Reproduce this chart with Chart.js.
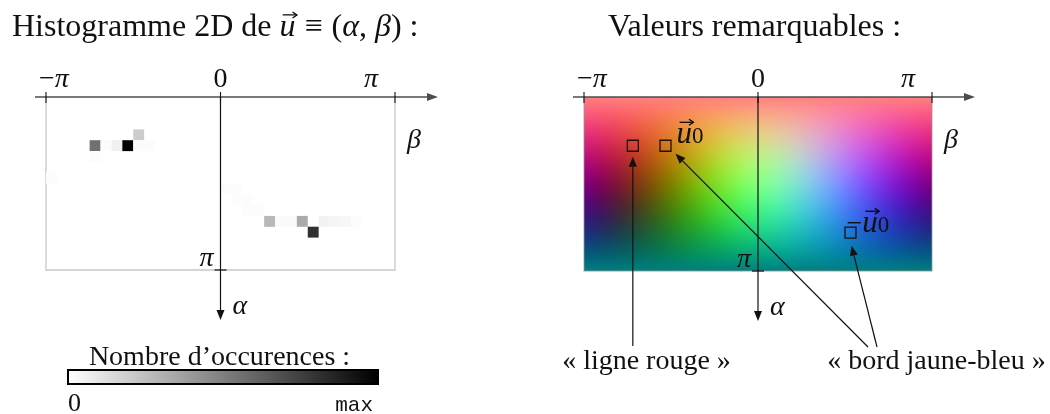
<!DOCTYPE html>
<html>
<head>
<meta charset="utf-8">
<script src="https://cdn.jsdelivr.net/npm/chart.js@4.4.1/dist/chart.umd.min.js"></script>
<style>
  body { margin: 0; background: #fff; }
  #wrap { position: relative; width: 1050px; height: 414px; }
  canvas { position: absolute; top: 0; }
</style>
</head>
<body>
<div id="wrap">
  <canvas id="hist" width="525" height="414" style="left:0"></canvas>
  <canvas id="remarq" width="525" height="414" style="left:525px"></canvas>
</div>
<script>
'use strict';
// ranges of the two angles
const betaMin = -Math.PI
const betaMax = Math.PI
const alphaMin = 0
const alphaMax = Math.PI
const nBeta = 32
const nAlpha = 16

// tick values and labels
const betaTicks = [-Math.PI, 0, Math.PI]
const betaTickLabels = ['−π', '0', 'π']
const alphaTicks = [Math.PI]
const alphaTickLabels = ['π']

// histogram cells : column = beta bin, row = alpha bin, count out of maxCount
const histCol = [8, 4, 5, 6, 7, 8, 9, 4, 0, 16, 17, 17, 18, 18, 19, 20, 21, 22, 23, 25, 26, 27, 28, 24]
const histRow = [3, 4, 4, 4, 4, 4, 4, 5, 7, 8, 8, 9, 9, 10, 10, 11, 11, 11, 11, 11, 11, 11, 11, 12]
const histCount = [20, 56, 1, 6, 100, 1, 1, 1, 1, 1, 1, 1, 1, 1, 1, 28, 2, 2, 33, 5, 4, 3, 1, 81]
const maxCount = 100

// remarkable values (alpha, beta)
const markBeta = [-2.26, -1.67, 1.67]
const markAlpha = [0.88, 0.88, 2.45]

const SERIF = "'Liberation Serif', 'DejaVu Serif', serif"
const MONO = "'Liberation Mono', 'DejaVu Sans Mono', monospace"

const cellW = (betaMax - betaMin) / nBeta
const cellH = (alphaMax - alphaMin) / nAlpha

let histPoints = []
for (let i = 0; i < histCol.length; i++) {
  histPoints.push({
    x: betaMin + (histCol[i] + 0.5) * cellW,
    y: alphaMin + (histRow[i] + 0.5) * cellH,
    n: histCount[i]
  })
}
let markPoints = []
for (let i = 0; i < markBeta.length; i++) {
  markPoints.push({ x: markBeta[i], y: markAlpha[i] })
}

// ---------- small drawing helpers
function line(ctx, x0, y0, x1, y1) {
  ctx.beginPath(); ctx.moveTo(x0, y0); ctx.lineTo(x1, y1); ctx.stroke()
}
function arrow(ctx, x0, y0, x1, y1, len, half) {
  const a = Math.atan2(y1 - y0, x1 - x0)
  const bx = x1 - len * Math.cos(a), by = y1 - len * Math.sin(a)
  line(ctx, x0, y0, bx, by)
  ctx.beginPath()
  ctx.moveTo(x1, y1)
  ctx.lineTo(bx + half * Math.sin(a), by - half * Math.cos(a))
  ctx.lineTo(bx - half * Math.sin(a), by + half * Math.cos(a))
  ctx.closePath(); ctx.fill()
}
function fontOf(p) {
  if (p.mono) return p.size + 'px ' + MONO
  return (p.it ? 'italic ' : '') + p.size + 'px ' + SERIF
}
// draws a row of text pieces (roman / italic / subscript / vector)
function drawMath(ctx, parts, x, y, align) {
  let total = 0
  for (const p of parts) { ctx.font = fontOf(p); total += ctx.measureText(p.t).width + (p.gap || 0) }
  let cx = x
  if (align === 'center') cx = x - total / 2
  if (align === 'right') cx = x - total
  ctx.textAlign = 'left'
  ctx.textBaseline = 'alphabetic'
  for (const p of parts) {
    ctx.font = fontOf(p)
    const w = ctx.measureText(p.t).width
    ctx.fillText(p.t, cx, y + (p.dy || 0))
    if (p.vec) {
      const ay = y - p.size * 0.66
      ctx.save()
      ctx.lineWidth = 1.2
      line(ctx, cx + w * 0.2, ay, cx + w + 1, ay)
      ctx.beginPath()
      ctx.moveTo(cx + w - 3, ay - 3); ctx.lineTo(cx + w + 1.5, ay); ctx.lineTo(cx + w - 3, ay + 3)
      ctx.stroke()
      ctx.restore()
    }
    cx += w + (p.gap || 0)
  }
}
function R(t, size) { return { t: t, size: size || 28 } }
function I(t, size) { return { t: t, size: size || 28, it: true } }

// axes : beta along the top edge, alpha downwards through beta = 0
function drawAxes(chart) {
  const ctx = chart.ctx
  const xs = chart.scales.x, ys = chart.scales.y
  const { left, right, top, bottom } = chart.chartArea
  const x0 = xs.getPixelForValue(0)
  ctx.save()
  ctx.strokeStyle = '#4d4d4d'; ctx.fillStyle = '#4d4d4d'; ctx.lineWidth = 1.3
  arrow(ctx, left - 11, top, right + 43, top, 11, 4)
  ctx.strokeStyle = '#111'; ctx.lineWidth = 1.1
  betaTicks.forEach(v => { const px = xs.getPixelForValue(v); line(ctx, px, top - 5, px, top + 6) })
  ctx.strokeStyle = '#111'; ctx.fillStyle = '#111'; ctx.lineWidth = 1.2
  arrow(ctx, x0, top, x0, bottom + 50, 10, 4)
  alphaTicks.forEach(v => { const py = ys.getPixelForValue(v); line(ctx, x0 - 6, py, x0 + 6, py) })

  ctx.fillStyle = '#111'
  betaTicks.forEach((v, i) => {
    const px = xs.getPixelForValue(v)
    const lab = betaTickLabels[i]
    let parts = lab === '0' ? [R('0')] : lab === 'π' ? [I('π')] : [R('−'), I('π')]
    if (i === 0) drawMath(ctx, parts, px - 7, top - 10, 'left')
    else if (i === betaTicks.length - 1) drawMath(ctx, parts, px - 17, top - 10, 'right')
    else drawMath(ctx, parts, px, top - 10, 'center')
  })
  drawMath(ctx, [I('β')], right + 12, top + 51, 'left')
  alphaTicks.forEach((v, i) => {
    const py = ys.getPixelForValue(v)
    drawMath(ctx, [I(alphaTickLabels[i])], x0 - 7, py - 4, 'right')
  })
  drawMath(ctx, [I('α')], x0 + 12, bottom + 44, 'left')
  ctx.restore()
}

function frame(chart, color) {
  const ctx = chart.ctx
  const { left, right, top, bottom } = chart.chartArea
  ctx.save()
  ctx.strokeStyle = color; ctx.lineWidth = 1.3
  ctx.beginPath()
  ctx.moveTo(left, top); ctx.lineTo(left, bottom); ctx.lineTo(right, bottom); ctx.lineTo(right, top)
  ctx.stroke()
  ctx.restore()
}

const histPlugin = {
  id: 'histPlugin',
  beforeDatasetsDraw(chart) { frame(chart, '#c8c8c8') },
  afterDraw(chart) {
    const ctx = chart.ctx
    drawAxes(chart)
    ctx.save()
    ctx.fillStyle = '#111'
    drawMath(ctx, [R('Histogramme 2D de ', 32), Object.assign(I('u', 32), { vec: true, gap: 9 }),
      Object.assign(R('≡', 32), { gap: 9 }), R('(', 32), I('α', 32), R(', ', 32), I('β', 32), R(') :', 32)], 12, 36, 'left')
    // colour bar
    drawMath(ctx, [R('Nombre d’occurences :')], 219.5, 365, 'center')
    const g = ctx.createLinearGradient(68, 0, 378, 0)
    g.addColorStop(0, '#ffffff'); g.addColorStop(1, '#000000')
    ctx.fillStyle = g
    ctx.fillRect(68, 370, 310, 14)
    ctx.strokeStyle = '#000'; ctx.lineWidth = 2
    ctx.strokeRect(68, 370, 310, 14)
    ctx.fillStyle = '#111'
    drawMath(ctx, [R('0', 26)], 68, 411, 'left')
    drawMath(ctx, [{ t: 'max', size: 21, mono: true }], 373, 411, 'right')
    ctx.restore()
  }
}

function cellSize(c) {
  const xs = c.chart.scales.x
  return Math.abs(xs.getPixelForValue(cellW) - xs.getPixelForValue(0)) / Math.SQRT2
}

new Chart(document.getElementById('hist'), {
  type: 'scatter',
  data: {
    datasets: [{
      data: histPoints,
      pointStyle: 'rect',
      pointRadius: c => cellSize(c),
      borderWidth: 0,
      backgroundColor: c => {
        const v = Math.round(255 * (1 - c.raw.n / maxCount))
        return `rgb(${v},${v},${v})`
      }
    }]
  },
  options: {
    responsive: false,
    animation: false,
    events: [],
    layout: { padding: { left: 46, right: 130, top: 97, bottom: 144 } },
    scales: {
      x: { type: 'linear', min: betaMin, max: betaMax, display: false },
      y: { type: 'linear', min: alphaMin, max: alphaMax, reverse: true, display: false }
    },
    plugins: { legend: { display: false }, tooltip: { enabled: false } }
  },
  plugins: [histPlugin]
})

// colour of a direction u = (sin a cos b, sin a sin b, cos a)
function dirColor(a, b) {
  const ux = Math.sin(a) * Math.cos(b), uy = Math.sin(a) * Math.sin(b), uz = Math.cos(a)
  return [255 * (0.5 + 0.5 * uz), 255 * (0.5 + 0.5 * ux), 255 * (0.5 + 0.5 * uy)]
}

const fieldPlugin = {
  id: 'fieldPlugin',
  beforeDatasetsDraw(chart) {
    const ctx = chart.ctx
    const xs = chart.scales.x, ys = chart.scales.y
    const { left, right, top, bottom } = chart.chartArea
    const w = Math.round(right - left), h = Math.round(bottom - top)
    const off = document.createElement('canvas')
    off.width = w; off.height = h
    const octx = off.getContext('2d')
    const img = octx.createImageData(w, h)
    for (let j = 0; j < h; j++) {
      const a = ys.getValueForPixel(top + j + 0.5)
      for (let i = 0; i < w; i++) {
        const b = xs.getValueForPixel(left + i + 0.5)
        const col = dirColor(a, b)
        const k = (j * w + i) * 4
        img.data[k] = col[0]; img.data[k + 1] = col[1]; img.data[k + 2] = col[2]; img.data[k + 3] = 255
      }
    }
    octx.putImageData(img, 0, 0)
    ctx.drawImage(off, left, top)
    frame(chart, 'rgba(150,150,150,0.6)')
  },
  afterDraw(chart) {
    const ctx = chart.ctx
    const xs = chart.scales.x, ys = chart.scales.y
    drawAxes(chart)
    ctx.save()
    ctx.fillStyle = '#111'
    drawMath(ctx, [R('Valeurs remarquables :', 32)], 229.5, 36, 'center')
    const mx = markBeta.map(v => xs.getPixelForValue(v))
    const my = markAlpha.map(v => ys.getPixelForValue(v))
    drawMath(ctx, [Object.assign(I('u', 31), { vec: true }), R('0', 23)], mx[1] + 11, my[1] - 3, 'left')
    drawMath(ctx, [R('−', 28), Object.assign(I('u', 31), { vec: true }), R('0', 23)], mx[2] - 4, my[2] - 1, 'left')
    drawMath(ctx, [R('« ligne rouge »')], 121.5, 369, 'center')
    drawMath(ctx, [R('« bord jaune-bleu »')], 411.5, 369, 'center')
    ctx.strokeStyle = '#111'; ctx.fillStyle = '#111'; ctx.lineWidth = 1.2
    arrow(ctx, mx[0], 346, mx[0], my[0] + 11, 10, 4)
    arrow(ctx, 343, 347, mx[1] + 10, my[1] + 8, 10, 4)
    arrow(ctx, 352, 347, mx[2] + 1, my[2] + 13, 10, 4)
    ctx.restore()
  }
}

new Chart(document.getElementById('remarq'), {
  type: 'scatter',
  data: {
    datasets: [{
      data: markPoints,
      pointStyle: 'rect',
      pointRadius: 11 / Math.SQRT2,
      borderWidth: 1.3,
      borderColor: 'rgba(25,10,10,0.95)',
      backgroundColor: 'rgba(0,0,0,0)'
    }]
  },
  options: {
    responsive: false,
    animation: false,
    events: [],
    layout: { padding: { left: 59, right: 118, top: 97, bottom: 143 } },
    scales: {
      x: { type: 'linear', min: betaMin, max: betaMax, display: false },
      y: { type: 'linear', min: alphaMin, max: alphaMax, reverse: true, display: false }
    },
    plugins: { legend: { display: false }, tooltip: { enabled: false } }
  },
  plugins: [fieldPlugin]
})
</script>
</body>
</html>
